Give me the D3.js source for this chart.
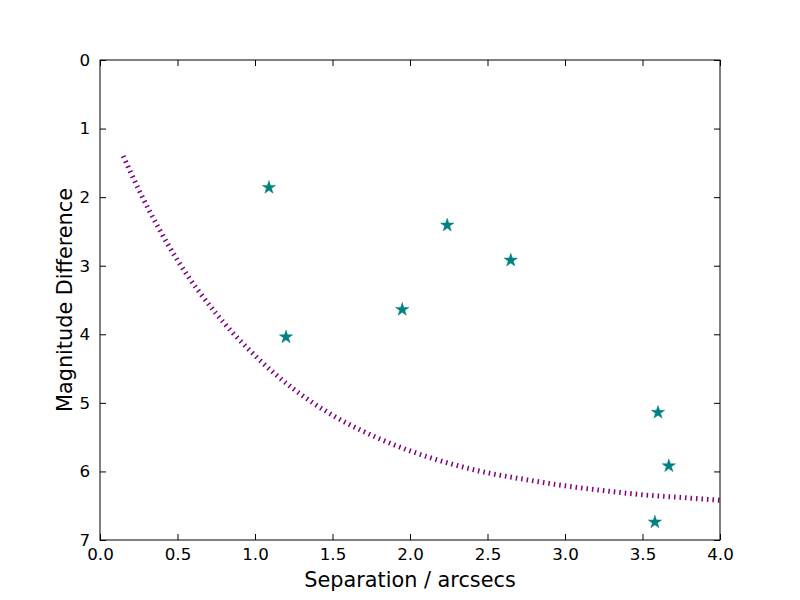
<!DOCTYPE html>
<html>
<head>
<meta charset="UTF-8">
<script src="https://d3js.org/d3.v7.min.js"></script>
<style>
  body { margin: 0; background: #fff; }
  text { font-family: "DejaVu Sans", sans-serif; }
</style>
</head>
<body>
<svg id="chart"></svg>
<script>
// measured companions
const sepStars = [1.09, 1.20, 1.95, 2.24, 2.65, 3.60, 3.67, 3.58];
const magStars = [1.86, 4.04, 3.64, 2.41, 2.92, 5.14, 5.92, 6.74];

// contrast curve
const sepCurve = [0.15, 0.25, 0.5, 0.75, 1.0, 1.25, 1.5, 1.75, 2.0, 2.25, 2.5, 2.75, 3.0, 3.25, 3.5, 3.75, 4.0];
const magCurve = [1.40, 1.89, 2.92, 3.70, 4.31, 4.80, 5.18, 5.47, 5.70, 5.88, 6.02, 6.12, 6.21, 6.28, 6.34, 6.38, 6.42];

const xTicks = [0, 0.5, 1, 1.5, 2, 2.5, 3, 3.5, 4];
const yTicks = [0, 1, 2, 3, 4, 5, 6, 7];

const W = 800, H = 600;
const m = {left: 100, right: 80, top: 60, bottom: 60};

const svg = d3.select("#chart").attr("width", W).attr("height", H);

const x = d3.scaleLinear().domain([0, 4]).range([m.left, W - m.right]);
const y = d3.scaleLinear().domain([0, 7]).range([m.top, H - m.bottom]); // 0 oben

const tickLen = 6;

// Achsen (Ticks nach innen, auf allen Seiten)
const fmtX = d3.format(".1f");
svg.append("g")
  .attr("transform", `translate(0,${H - m.bottom})`)
  .call(d3.axisBottom(x).tickValues(xTicks).tickFormat(fmtX).tickSizeInner(-tickLen).tickSizeOuter(0).tickPadding(8))
  .call(g => g.select(".domain").remove());
svg.append("g")
  .attr("transform", `translate(0,${m.top})`)
  .call(d3.axisTop(x).tickValues(xTicks).tickFormat("").tickSizeInner(-tickLen).tickSizeOuter(0))
  .call(g => g.select(".domain").remove());
svg.append("g")
  .attr("transform", `translate(${m.left},0)`)
  .call(d3.axisLeft(y).tickValues(yTicks).tickFormat(d3.format("d")).tickSizeInner(-tickLen).tickSizeOuter(0).tickPadding(10))
  .call(g => g.select(".domain").remove());
svg.append("g")
  .attr("transform", `translate(${W - m.right},0)`)
  .call(d3.axisRight(y).tickValues(yTicks).tickFormat("").tickSizeInner(-tickLen).tickSizeOuter(0))
  .call(g => g.select(".domain").remove());

svg.selectAll(".tick text")
  .attr("font-family", "DejaVu Sans, sans-serif")
  .attr("font-size", "16.7px")
  .attr("fill", "#000");
svg.selectAll(".tick line").attr("stroke", "#000");

// Kurve
const curve = sepCurve.map((s, i) => [s, magCurve[i]]);
svg.append("path")
  .datum(curve)
  .attr("fill", "none")
  .attr("stroke", "#800080")
  .attr("stroke-width", 5)
  .attr("stroke-dasharray", "1.5,4")
  .attr("d", d3.line().x(d => x(d[0])).y(d => y(d[1])).curve(d3.curveMonotoneX));

// Sterne
svg.selectAll(".star")
  .data(sepStars.map((s, i) => [s, magStars[i]]))
  .enter().append("path")
  .attr("class", "star")
  .attr("transform", d => `translate(${x(d[0])},${y(d[1])})`)
  .attr("d", d3.symbol().type(d3.symbolStar).size(55))
  .attr("fill", "#008080")
  .attr("stroke", "#008080")
  .attr("stroke-width", 0.5);

// Rahmen
svg.append("rect")
  .attr("x", m.left).attr("y", m.top)
  .attr("width", W - m.left - m.right).attr("height", H - m.top - m.bottom)
  .attr("fill", "none").attr("stroke", "#000").attr("stroke-width", 1);

// Beschriftungen
svg.append("text")
  .attr("x", x(2)).attr("y", 587)
  .attr("text-anchor", "middle")
  .attr("font-size", "20.8px")
  .text("Separation / arcsecs");

svg.append("text")
  .attr("transform", `translate(72,${y(3.5)}) rotate(-90)`)
  .attr("text-anchor", "middle")
  .attr("font-size", "20.8px")
  .text("Magnitude Difference");
</script>
</body>
</html>
